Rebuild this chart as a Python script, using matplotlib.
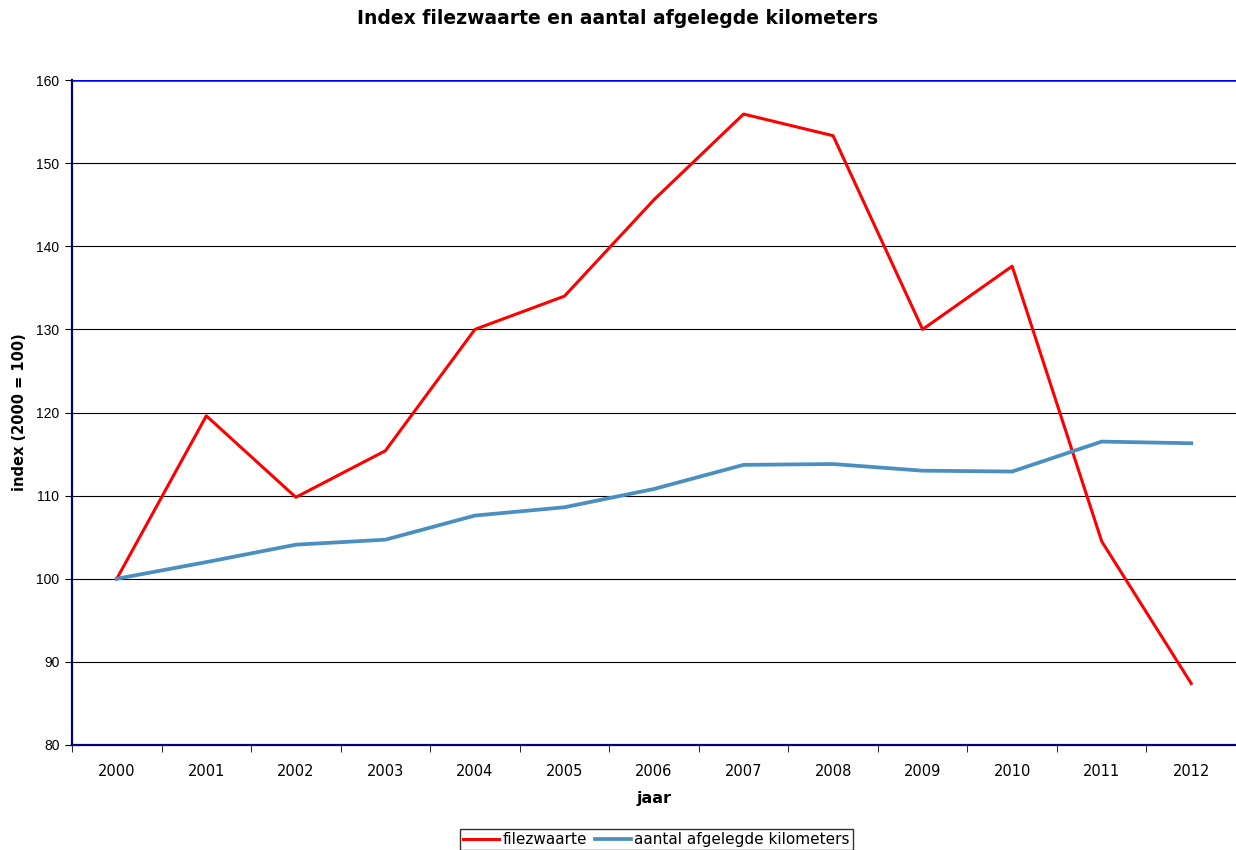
import matplotlib.pyplot as plt

years = [str(y) for y in range(2000, 2013)]
filezwaarte = [100, 119.6, 109.8, 115.4, 130.0, 134.0, 145.6, 155.9, 153.3, 130.0, 137.6, 104.5, 87.4]
kilometers = [100, 102.0, 104.1, 104.7, 107.6, 108.6, 110.8, 113.7, 113.8, 113.0, 112.9, 116.5, 116.3]
y_ticks = [80, 90, 100, 110, 120, 130, 140, 150, 160]

fig = plt.figure(figsize=(12.36, 8.5), dpi=100)
ax = fig.add_axes([72 / 1236, 1 - 745 / 850, 1 - 72 / 1236, (745 - 80) / 850])

x = range(len(years))
ax.plot(x, filezwaarte, color="#ff0000", lw=2.2, label="filezwaarte")
ax.plot(x, kilometers, color="#4a8fbf", lw=2.7, label="aantal afgelegde kilometers")

ax.set_xlim(-0.5, len(years) - 0.5)
ax.set_ylim(80, 160)
ax.set_yticks(y_ticks)
ax.set_yticklabels([str(v) for v in y_ticks], fontfamily="Liberation Sans", fontsize=10)
ax.set_xticks(list(x))
ax.set_xticklabels(years, fontfamily="DejaVu Sans", fontsize=10.5)
ax.set_xticks([i - 0.5 for i in range(len(years) + 1)], minor=True)
ax.tick_params(axis="x", which="major", length=0, pad=14)
ax.tick_params(axis="x", which="minor", length=5, color="black", direction="out")
ax.tick_params(axis="y", length=5, color="black", pad=4)

for v in y_ticks[1:-1]:
    ax.axhline(v, color="black", lw=0.8, zorder=0)
ax.axhline(160, color="#0000ff", lw=1.8, zorder=0)

for side in ["top", "right"]:
    ax.spines[side].set_visible(False)
for side in ["left", "bottom"]:
    ax.spines[side].set_color("#000080")
    ax.spines[side].set_linewidth(1.6)

ax.set_xlabel("jaar", fontweight="bold", fontsize=11.5, labelpad=8)
ax.set_ylabel("index (2000 = 100)", fontweight="bold", fontsize=10.5, labelpad=7)
fig.text(0.5, 1 - 18 / 850, "Index filezwaarte en aantal afgelegde kilometers",
         ha="center", va="center", fontweight="bold", fontsize=13.5)

leg = fig.legend(loc="lower center", bbox_to_anchor=(0.531, 0.0), ncol=2, fontsize=11,
                 frameon=True, fancybox=False, edgecolor="black", handlelength=2.4,
                 handletextpad=0.2, columnspacing=0.5, borderpad=0.2, borderaxespad=0)
leg.get_frame().set_linewidth(1.0)

fig.savefig("out.png", dpi=100)
